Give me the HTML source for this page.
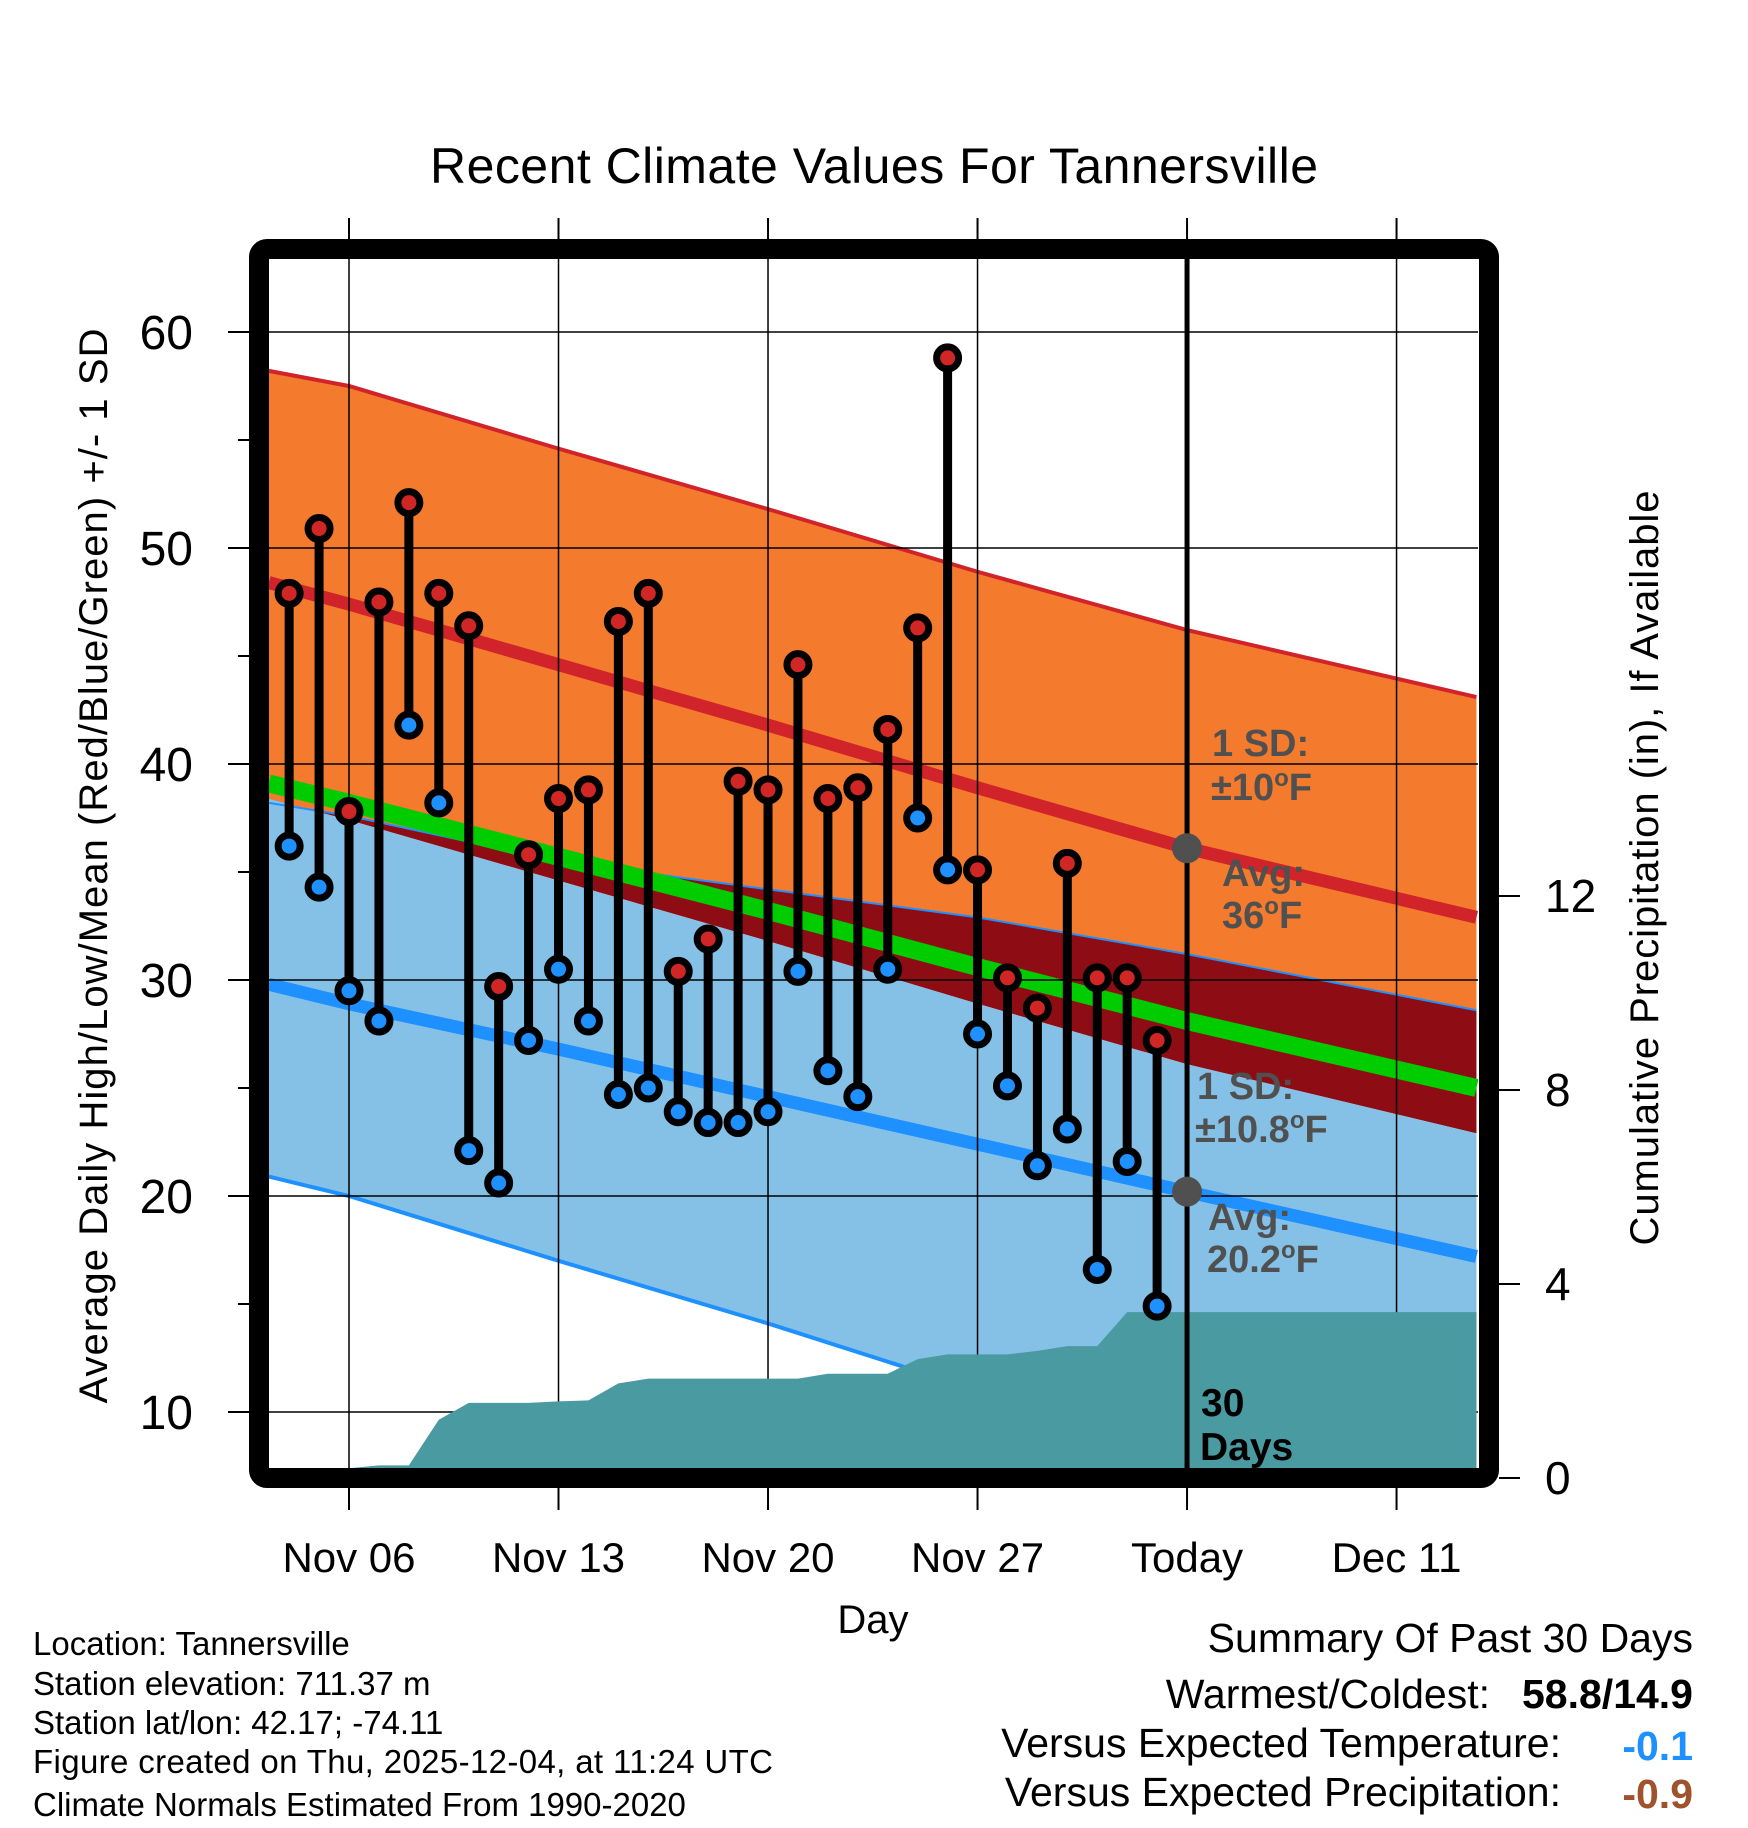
<!DOCTYPE html>
<html><head><meta charset="utf-8"><style>
html,body{margin:0;padding:0;background:#fff}
svg{display:block;font-family:"Liberation Sans",sans-serif}
</style></head><body>
<svg id="chart" width="1748" height="1828" viewBox="0 0 1748 1828" xmlns="http://www.w3.org/2000/svg">
<defs><clipPath id="plotclip"><rect x="269" y="259" width="1209" height="1209"/></clipPath></defs>
<g id="plot" clip-path="url(#plotclip)"></g>
<g id="over"></g>
</svg>
<script>
// ---- data ----
const normDays = [3.32, 6, 13, 20, 27, 34, 43.67];
const highPlus = [58.2, 57.5, 54.6, 51.8, 48.9, 46.2, 43.1];
const highNorm = [48.4, 47.4, 44.6, 41.8, 38.9, 36.1, 32.9];
const highMinus = [38.4, 37.4, 34.6, 31.8, 28.9, 26.1, 22.9];
const lowPlus = [38.2, 37.6, 35.5, 34.2, 32.9, 31.2, 28.6];
const lowNorm = [29.8, 28.9, 26.8, 24.6, 22.4, 20.2, 17.2];
const lowMinus = [20.9, 20.0, 17.0, 14.1, 11.0, 7.9, 4.5];
const meanNorm = [39.1, 38.2, 35.7, 33.2, 30.6, 28.1, 25.0];
const obsDays = [4,5,6,7,8,9,10,11,12,13,14,15,16,17,18,19,20,21,22,23,24,25,26,27,28,29,30,31,32,33];
const highs = [47.9,50.9,37.8,47.5,52.1,47.9,46.4,29.7,35.8,38.4,38.8,46.6,47.9,30.4,31.9,39.2,38.8,44.6,38.4,38.9,41.6,46.3,58.8,35.1,30.1,28.7,35.4,30.1,30.1,27.2];
const lows = [36.2,34.3,29.5,28.1,41.8,38.2,22.1,20.6,27.2,30.5,28.1,24.7,25.0,23.9,23.4,23.4,23.9,30.4,25.8,24.6,30.5,37.5,35.1,27.5,25.1,21.4,23.1,16.6,21.6,14.9];
const precipDays = [3.32,4,5,6,7,8,9,10,11,12,13,14,15,16,17,18,19,20,21,22,23,24,25,26,27,28,29,30,31,32,33,43.67];
const precipCum = [0,0,0,0.2,0.26,0.26,1.2,1.55,1.55,1.55,1.58,1.6,1.95,2.05,2.05,2.05,2.05,2.05,2.05,2.15,2.15,2.15,2.45,2.55,2.55,2.55,2.62,2.72,2.72,3.42,3.42,3.42];
const xTickDays = [6,13,20,27,34,41];
const xTickLabels = ["Nov 06","Nov 13","Nov 20","Nov 27","Today","Dec 11"];
const yTicks = [10,20,30,40,50,60];
const yMinor = [15,25,35,45,55];
const pTicks = [0,4,8,12];
const todayDay = 34;
const todayHigh = 36.1, todayLow = 20.2;

// ---- scales ----
const xD = d => 349 + (d - 6) * 29.93;
const yT = t => 332 + (60 - t) * 21.6;
const yP = p => 1478 - p * 48.5;
const NS = "http://www.w3.org/2000/svg";
const plot = document.getElementById('plot');
const over = document.getElementById('over');
function mk(tag, parent, attrs){const e=document.createElementNS(NS,tag);for(const k in attrs)e.setAttribute(k,attrs[k]);parent.appendChild(e);return e;}
const line = arr => normDays.map((d,i)=>xD(d)+','+yT(arr[i])).join(' ');
const band = (a,b) => line(a)+' '+normDays.map((d,i)=>xD(d)+','+yT(b[i])).reverse().join(' ');

let e;
e = mk('polygon', plot, {points: band(highPlus, lowPlus), fill:'#f47a2e'});


e = mk('polygon', plot, {points: band(lowPlus, highMinus), fill:'#8e0d14'});


e = mk('polygon', plot, {points: band(highMinus, lowMinus), fill:'#85c1e7'});


e = mk('polyline', plot, {points: line(highPlus), fill:'none', stroke:'#d0232a', 'stroke-width':4});


e = mk('polyline', plot, {points: line(lowPlus), fill:'none', stroke:'#1e90ff', 'stroke-width':2});


e = mk('polyline', plot, {points: line(lowMinus), fill:'none', stroke:'#1e90ff', 'stroke-width':4});


e = mk('polyline', plot, {points: line(meanNorm), fill:'none', stroke:'#00cc00', 'stroke-width':18});


e = mk('polyline', plot, {points: line(highNorm), fill:'none', stroke:'#d0232a', 'stroke-width':13});


e = mk('polyline', plot, {points: line(lowNorm), fill:'none', stroke:'#1e90ff', 'stroke-width':13});



// gridlines
yTicks.forEach(t=>{
  const g = mk('line', plot, {x1:269,x2:1478,y1:yT(t),y2:yT(t),stroke:'#000','stroke-width':1.5});
  
  
});
xTickDays.forEach(d=>{
  const g = mk('line', plot, {x1:xD(d),x2:xD(d),y1:259,y2:1468,stroke:'#000','stroke-width':1.5});
  
  
});

// precip area
const pPts = precipDays.map((d,i)=>xD(d)+','+yP(precipCum[i])).join(' ');
e = mk('polygon', plot, {points: xD(precipDays[0])+',1480 '+pPts+' '+xD(precipDays[precipDays.length-1])+',1480', fill:'#4a9aa2'});



// today line
e = mk('line', plot, {x1:xD(todayDay),x2:xD(todayDay),y1:259,y2:1468,stroke:'#000','stroke-width':5});



// bars
obsDays.forEach((d,i)=>{
  const x = xD(d);
  const s = mk('line', plot, {x1:x,x2:x,y1:yT(highs[i]),y2:yT(lows[i]),stroke:'#000','stroke-width':9});
  
  
  const h = mk('circle', plot, {cx:x,cy:yT(highs[i]),r:11,fill:'#d02626',stroke:'#000','stroke-width':7});
  
  
  const l = mk('circle', plot, {cx:x,cy:yT(lows[i]),r:11,fill:'#1e90ff',stroke:'#000','stroke-width':7});
  
  
});

// avg dots
e = mk('circle', plot, {cx:xD(todayDay),cy:yT(todayHigh),r:15,fill:'#505050'});


e = mk('circle', plot, {cx:xD(todayDay),cy:yT(todayLow),r:15,fill:'#505050'});



// frame
e = mk('rect', over, {x:259,y:249,width:1230,height:1229,rx:8,fill:'none',stroke:'#000','stroke-width':20});



// ticks
yTicks.forEach((t,i)=>{
  const k = mk('line', over, {x1:228,x2:249,y1:yT(t),y2:yT(t),stroke:'#000','stroke-width':2});
  
  
  const lb = mk('text', over, {x:193,y:yT(t)+17,'text-anchor':'end','font-size':48});
  lb.textContent = String(t);
  
  
});
yMinor.forEach(t=>{
  const k = mk('line', over, {x1:238,x2:249,y1:yT(t),y2:yT(t),stroke:'#000','stroke-width':2});
  
  
});
xTickDays.forEach((d,i)=>{
  const k1 = mk('line', over, {x1:xD(d),x2:xD(d),y1:218,y2:239,stroke:'#000','stroke-width':2});
  
  
  const k2 = mk('line', over, {x1:xD(d),x2:xD(d),y1:1488,y2:1510,stroke:'#000','stroke-width':2});
  
  
  const lb = mk('text', over, {x:xD(d),y:1572,'text-anchor':'middle','font-size':42});
  lb.textContent = xTickLabels[i];
  
  
});
pTicks.forEach(p=>{
  const k = mk('line', over, {x1:1499,x2:1520,y1:yP(p),y2:yP(p),stroke:'#000','stroke-width':2});
  
  
  const lb = mk('text', over, {x:1545,y:yP(p)+16,'text-anchor':'start','font-size':46});
  lb.textContent = String(p);
  
  
});
</script>
<svg width="1748" height="1828" style="position:absolute;left:0;top:0;font-family:'Liberation Sans',sans-serif">
<text x="874" y="183" text-anchor="middle" font-size="50" textLength="888">Recent Climate Values For Tannersville</text>
<text transform="translate(107,866) rotate(-90)" text-anchor="middle" font-size="40" textLength="1075">Average Daily High/Low/Mean (Red/Blue/Green) +/- 1 SD</text>
<text transform="translate(1658,868) rotate(-90)" text-anchor="middle" font-size="40" textLength="755">Cumulative Precipitation (in), If Available</text>
<text x="873" y="1633" text-anchor="middle" font-size="40">Day</text>
<g font-weight="bold" font-size="38" fill="#505050">
<text x="1212" y="756">1 SD:</text>
<text x="1211" y="800">±10<tspan dy="-14" font-size="24">o</tspan><tspan dy="14">F</tspan></text>
<text x="1222" y="886">Avg:</text>
<text x="1222" y="928">36<tspan dy="-14" font-size="24">o</tspan><tspan dy="14">F</tspan></text>
<text x="1197" y="1099">1 SD:</text>
<text x="1195" y="1142">±10.8<tspan dy="-14" font-size="24">o</tspan><tspan dy="14">F</tspan></text>
<text x="1208" y="1230">Avg:</text>
<text x="1207" y="1272">20.2<tspan dy="-14" font-size="24">o</tspan><tspan dy="14">F</tspan></text>
</g>
<text x="1201" y="1416" font-weight="bold" font-size="39">30</text>
<text x="1200" y="1460" font-weight="bold" font-size="39">Days</text>
<g font-size="33">
<text x="33" y="1655">Location: Tannersville</text>
<text x="33" y="1695">Station elevation: 711.37 m</text>
<text x="33" y="1734">Station lat/lon: 42.17; -74.11</text>
<text x="33" y="1773" textLength="740">Figure created on Thu, 2025-12-04, at 11:24 UTC</text>
<text x="33" y="1816">Climate Normals Estimated From 1990-2020</text>
</g>
<g font-size="41" text-anchor="end">
<text x="1693" y="1652">Summary Of Past 30 Days</text>
<text x="1490" y="1708">Warmest/Coldest:</text>
<text x="1693" y="1708" font-weight="bold">58.8/14.9</text>
<text x="1561" y="1757">Versus Expected Temperature:</text>
<text x="1693" y="1760" font-weight="bold" fill="#1e90ff">-0.1</text>
<text x="1561" y="1806">Versus Expected Precipitation:</text>
<text x="1693" y="1808" font-weight="bold" fill="#a0522d">-0.9</text>
</g>
</svg>
</body></html>
